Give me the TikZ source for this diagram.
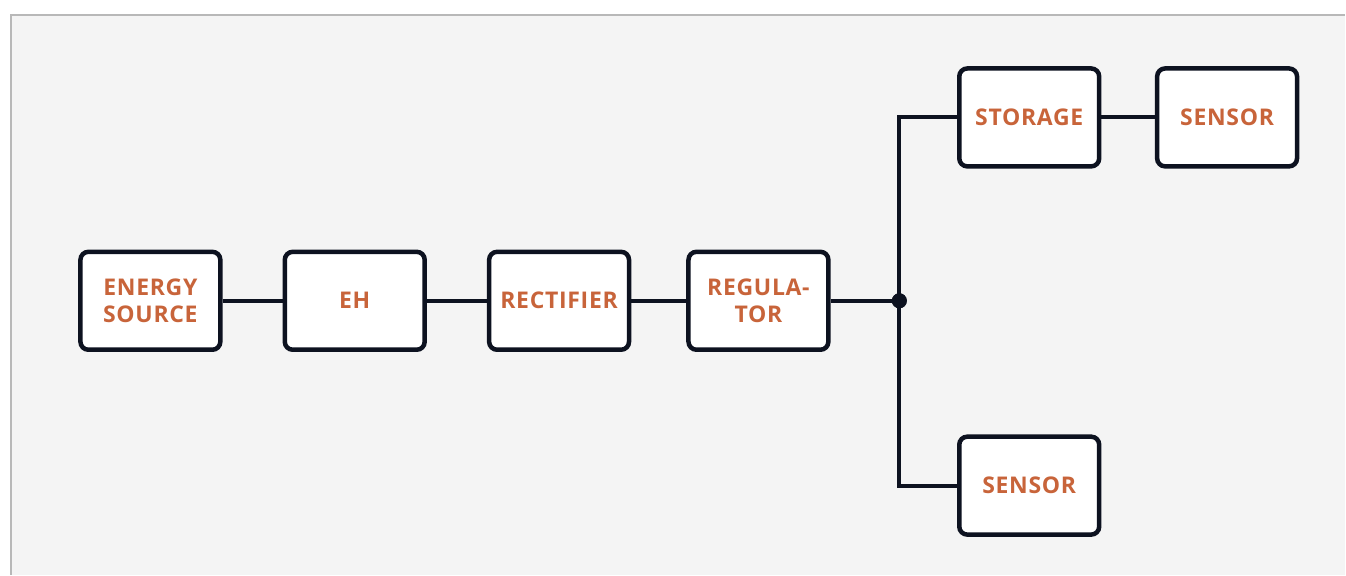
\documentclass[tikz,border=0pt]{standalone}
\usepackage{fontspec}
\setsansfont{Open Sans}[LetterSpace=3]
\definecolor{panel}{HTML}{F4F4F4}
\definecolor{frame}{HTML}{B8B8B8}
\definecolor{ink}{HTML}{0D1220}
\definecolor{label}{HTML}{C8643A}
\tikzset{
  block/.style={draw=ink, line width=4.5pt, fill=white, rounded corners=8pt,
    minimum width=140pt, minimum height=98pt, inner sep=0pt,
    align=center, text=label, font=\sffamily\bfseries\fontsize{23}{27}\selectfont},
  wire/.style={draw=ink, line width=4pt},
  junction/.style={circle, fill=ink, inner sep=0pt, minimum size=15pt}
}
\begin{document}
\begin{tikzpicture}[x=1pt, y=-1pt]
  % canvas and panel frame
  \fill[white] (0,0) rectangle (1346,575);
  \fill[panel] (10,14) rectangle (1346,575);
  \draw[frame, line width=2pt] (11,575) -- (11,15) -- (1346,15);
  \useasboundingbox (0,0) rectangle (1346,575);

  % blocks
  \node[block] (src) at (150.5,301) {ENERGY\\SOURCE};
  \node[block] (eh)  at (355,301) {EH};
  \node[block] (rec) at (559.5,301) {RECTIFIER};
  \node[block] (reg) at (759,301) {REGULA-\\TOR};
  \node[block] (sto) at (1030,117.5) {STORAGE};
  \node[block] (sn1) at (1228,117.5) {SENSOR};
  \node[block] (sn2) at (1030,486) {SENSOR};
  \node[junction] (j) at (900,301) {};

  % connections
  \draw[wire] (src) -- (eh);
  \draw[wire] (eh) -- (rec);
  \draw[wire] (rec) -- (reg);
  \draw[wire] (reg) -- (j.center);
  \draw[wire] (sto) -- (sn1);
  \draw[wire, line join=miter] (sto.west) -| (j.center) |- (sn2.west);
  \node[junction] at (j) {};
\end{tikzpicture}
\end{document}
